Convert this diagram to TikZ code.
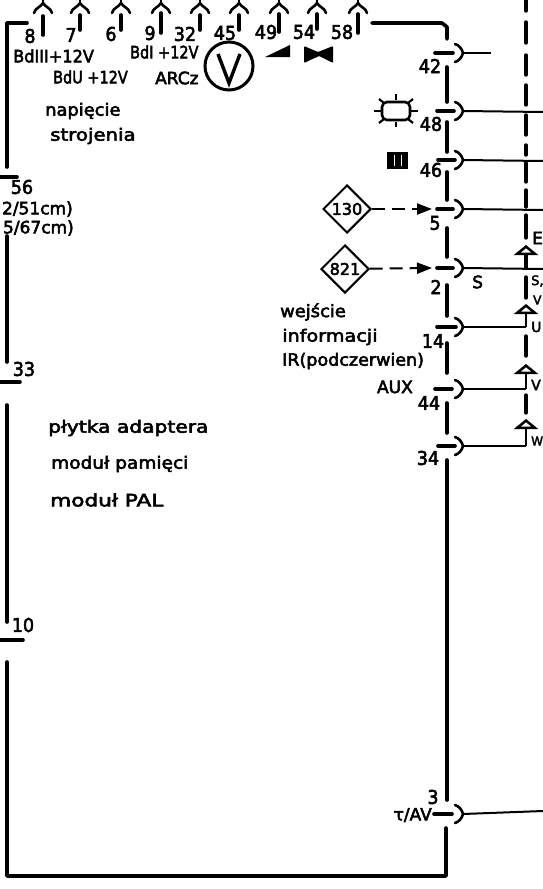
\documentclass[tikz,border=0pt]{standalone}
\usepackage{fontspec}
\usepackage{xcolor}
\usepackage{tikz}
\usetikzlibrary{arrows.meta, shapes.geometric, calc}
\newfontfamily\schemfont[RawFeature={embolden=3}]{DejaVu Sans}
\tikzset{
	wall/.style={line width=3.6pt, line cap=round, line join=round},
	bar/.style={line width=3.6pt, line cap=round},
	plug/.style={line width=2.6pt, line cap=round},
	wire/.style={line width=2pt},
	dashline/.style={line width=3.4pt, line cap=round},
	lab/.style={inner sep=0pt, font=\schemfont\fontsize{17}{19}\selectfont},
	num/.style={inner sep=0pt, xscale=0.92, transform shape, font=\schemfont\fontsize{19}{21}\selectfont},
	edgelab/.style={inner sep=0pt, font=\schemfont\fontsize{#1}{15}\selectfont},
	sx/.style={xscale=#1, transform shape},
	ziel/.style={diamond, draw, line width=2pt, minimum width=48pt, minimum height=48pt, inner sep=0pt, font=\schemfont\fontsize{16}{18}\selectfont},
	feed/.style={wire, dash pattern=on 13pt off 7pt, -{Triangle[length=15pt,width=11pt]}},
	tipup/.style={wire, line width=2.4pt, -{Triangle[open,length=10pt,width=24pt,line width=3pt]}},
}
\begin{document}
\begin{tikzpicture}[x=1pt, y=-1pt]
	\useasboundingbox (0,0) rectangle (543,889);
	\clip (0,0) rectangle (543,889);
	% gorne gniazda
	\foreach \x/\ya/\yb/\nn/\nx/\ny in {43/16/35/8/30/36, 80/15/30/7/71/35, 121/15/30/6/111/34, 161/13/33/9/150/33, 200/15/30/32/185/34, 239/15/30/45/225/33, 279/14/32/49/266/32, 317/14/29/54/304/32, 358/14/33/58/342/32} {
		\draw[plug] (\x-9,13) .. controls (\x-8,8) and (\x-2,7) .. (\x,3) .. controls (\x+2,7) and (\x+8,8) .. (\x+9,13);
		\draw[plug] (\x,0) -- (\x,3);
		\draw[bar] (\x,\ya) -- (\x,\yb);
		\node[num] (n\nn) at (\nx,\ny) {\nn};
	}
	% rama
	\draw[wall] (27,23) -- (7,23) -- (7,167);
	\draw[wall] (0,177) -- (17,177);
	\draw[wall] (7,236) -- (7,362);
	\draw[wall] (0,382) -- (20,382);
	\draw[wall] (7,405) -- (7,622);
	\draw[wall] (0,640) -- (23,640);
	\draw[wall] (7,662) -- (7,876) -- (446,876) -- (446,828);
	\draw[wall] (372,23) -- (442,23) -- (447,27) -- (447,39);
	\foreach \ya/\yb in {67/102, 122/152, 172/200, 228/257, 285/316, 343/373, 403/433, 460/800} {
		\draw[wall] (447,\ya) -- (447,\yb);
	}
	% prawe gniazda
	\foreach \y/\xa/\xb/\nn/\nx/\ny in {53/435/453/42/430/66, 111/437/454/48/431/124, 160/438/455/46/431/170, 209/437/453/5/435/223, 268/437/453/2/436/287, 327/437/456/14/433/341, 389/435/452/44/429/403, 446/438/455/34/428/458, 814/434/452/3/433/797} {
		\draw[bar] (\xa,\y) -- (\xb,\y);
		\draw[plug] (455,\y-9) .. controls (459,\y-8) and (462,\y-4) .. (463,\y) .. controls (462,\y+4) and (459,\y+8) .. (455,\y+9);
		\coordinate (p\nn) at (463,\y);
		\node[num] (n\nn) at (\nx,\ny) {\nn};
	}
	% przewody
	\coordinate (e42) at (491,53);
	\coordinate (e48) at (543,112);
	\coordinate (e46) at (543,161);
	\coordinate (e5) at (543,210);
	\coordinate (e2) at (543,269);
	\coordinate (e3) at (543,811);
	\foreach \nn in {42,48,46,5,2,3} {
		\draw[wire] (p\nn) -- (e\nn);
	}
	\coordinate (j2) at (526,269);
	\coordinate (j14) at (526,327);
	\coordinate (j44) at (526,389);
	\coordinate (j34) at (526,446);
	\coordinate (t2) at (526,245);
	\coordinate (t14) at (526,304);
	\coordinate (t44) at (526,364);
	\coordinate (t34) at (526,419);
	\draw[tipup, line width=4pt] (j2) -- (t2);
	\foreach \nn in {14,44,34} {
		\draw[wire] (p\nn) -- (j\nn);
		\draw[tipup] (j\nn) -- (t\nn);
	}
	% linia przerywana
	\foreach \ya/\yb in {0/11, 22/43, 55/75, 85/105, 115/135, 145/155, 163/182, 190/207, 215/238, 277/298, 336/356, 395/413} {
		\draw[dashline] (526,\ya) -- (526,\yb);
	}
	% symbole
	\draw[line width=3pt] (229,66) circle (24);
	\draw[line width=3.4pt, line join=miter] (218,54) -- (229,83) -- (240,54);
	\fill (265,57) -- (290,45) -- (290,57) -- cycle;
	\fill[rounded corners=1pt] (304,46) -- (318,52) -- (333,46) -- (333,63) -- (319,56) -- (304,63) -- cycle;
	\draw[plug, rounded corners=5pt] (382,102) rectangle (410,120);
	\foreach \xa/\ya/\xb/\yb in {396/94/396/100, 396/122/396/127, 374/111/381/111, 411/111/418/111, 379/99/384/103, 413/99/408/103, 379/123/384/119, 413/123/408/119} {
		\draw[line width=2.2pt] (\xa,\ya) -- (\xb,\yb);
	}
	\fill (387,152) rectangle (408,169);
	\foreach \x in {394,401} {
		\draw[white, line width=0.8pt] (\x,155) -- (\x,166);
	}
	\node[ziel] (d130) at (347,209) {130};
	\node[ziel] (d821) at (345,269) {821};
	\coordinate (a5) at (432,209);
	\coordinate (a2) at (432,268);
	\draw[feed] (d130) -- (a5);
	\draw[feed] (d821) -- (a2);
	% opisy
	\node[lab, anchor=west, sx=0.95] (bd3) at (13,56) {BdIII+12V};
	\node[lab, anchor=west, sx=0.85] (bdu) at (53,77) {BdU +12V};
	\node[lab, anchor=west, sx=0.85] (bd1) at (130,52) {BdI +12V};
	\node[lab, anchor=west] (arcz) at (155,78) {ARCz};
	\node[lab, anchor=west, sx=1.05] (nap) at (45,111) {napięcie};
	\node[lab, anchor=west, sx=1.16] (stroj) at (50,136) {strojenia};
	\node[num] (n56) at (22,187) {56};
	\node[lab, anchor=east] (c51) at (73,209) {2/51cm)};
	\node[lab, anchor=east] (c67) at (74,228) {5/67cm)};
	\node[num] (n33) at (24,369) {33};
	\node[num] (n10) at (23,625) {10};
	\node[lab, anchor=west, sx=1.19] (plyt) at (48,428) {płytka adaptera};
	\node[lab, anchor=west, sx=1.09] (pam) at (51,464) {moduł pamięci};
	\node[lab, anchor=west, sx=1.27] (pal) at (50,500) {moduł PAL};
	\node[lab, anchor=west, sx=1.05] (wej) at (280,312) {wejście};
	\node[lab, anchor=west, sx=1.13] (inf) at (282,337) {informacji};
	\node[lab, anchor=west, sx=1.03] (ir) at (282,361) {IR(podczerwien)};
	\node[lab, anchor=east] (aux) at (413,387) {AUX};
	\node[lab, anchor=east] (tav) at (432,815) {τ/AV};
	\node[lab, anchor=west] (ss) at (472,282) {S};
	\node[lab, anchor=west] (le) at (532,238) {E};
	\node[edgelab=13, anchor=west] (ls) at (531,281) {S,};
	\node[edgelab=12, anchor=west] (lv0) at (533,300) {V};
	\node[edgelab=14, anchor=west] (lu) at (531,327) {U};
	\node[edgelab=14, anchor=west] (lv) at (531,385) {V};
	\node[edgelab=12, anchor=west] (lw) at (531,441) {W};
\end{tikzpicture}
\end{document}
